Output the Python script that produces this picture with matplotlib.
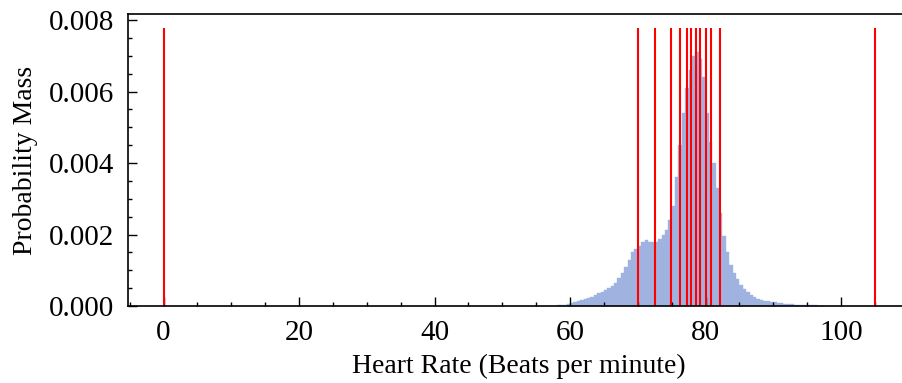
import matplotlib
matplotlib.use("Agg")
import matplotlib.pyplot as plt
from matplotlib.ticker import MultipleLocator, FormatStrFormatter

# Histogram (probability mass), bins of 0.5 bpm: left edges and heights
bin_left = [58.0, 58.5, 59.0, 59.5, 60.0, 60.5, 61.0, 61.5, 62.0, 62.5,
            63.0, 63.5, 64.0, 64.5, 65.0, 65.5, 66.0, 66.5, 67.0, 67.5,
            68.0, 68.5, 69.0, 69.5, 70.0, 70.5, 71.0, 71.5, 72.0, 72.5,
            73.0, 73.5, 74.0, 74.5, 75.0, 75.5, 76.0, 76.5, 77.0, 77.5,
            78.0, 78.5, 79.0, 79.5, 80.0, 80.5, 81.0, 81.5, 82.0, 82.5,
            83.0, 83.5, 84.0, 84.5, 85.0, 85.5, 86.0, 86.5, 87.0, 87.5,
            88.0, 88.5, 89.0, 89.5, 90.0, 90.5, 91.0, 91.5, 92.0, 92.5,
            93.0, 93.5, 94.0, 94.5, 95.0, 95.5, 96.0, 96.5, 97.0]
prob_mass = [0.00002, 0.00003, 0.00004, 0.00005, 0.00007, 0.00010, 0.00013, 0.00017, 0.00020, 0.00023,
             0.00026, 0.00030, 0.00035, 0.00040, 0.00045, 0.00050, 0.00056, 0.00065, 0.00078, 0.00092,
             0.00110, 0.00130, 0.00150, 0.00160, 0.00168, 0.00178, 0.00185, 0.00180, 0.00178, 0.00180,
             0.00188, 0.00198, 0.00212, 0.00240, 0.00280, 0.00360, 0.00450, 0.00540, 0.00610, 0.00660,
             0.00700, 0.00710, 0.00690, 0.00640, 0.00540, 0.00460, 0.00400, 0.00330, 0.00260, 0.00195,
             0.00150, 0.00115, 0.00092, 0.00075, 0.00060, 0.00048, 0.00038, 0.00030, 0.00024, 0.00020,
             0.00017, 0.00015, 0.00013, 0.00011, 0.00010, 0.00008, 0.00007, 0.00006, 0.00005, 0.00005,
             0.00004, 0.00004, 0.00003, 0.00003, 0.00002, 0.00002, 0.00002, 0.00001, 0.00001]
bin_width = 0.5

# Red vertical marker lines (quantiles)
quantiles = [0.0, 70.1, 72.6, 74.9, 76.2, 77.2, 77.9, 78.6, 79.2, 80.0, 80.8, 82.2, 105.0]
line_top = 0.00778

plt.rcParams['font.family'] = ['Liberation Serif', 'DejaVu Serif']

fig = plt.figure(figsize=(9.03, 3.83), dpi=100)
ax = fig.add_axes([128/903, 77/383, 782.5/903, 292/383])

edges = bin_left + [bin_left[-1] + bin_width]
heights = prob_mass + [prob_mass[-1]]
ax.fill_between(edges, 0, heights, step='post', facecolor='#a0b2df',
                edgecolor='#a0b2df', linewidth=0.3)
ax.vlines(quantiles, 0, line_top, colors='#ff0000', linewidth=1.5)

ax.set_xlim(-5.25, 110.25)
ax.set_ylim(0, line_top * 1.05)

ax.xaxis.set_major_locator(MultipleLocator(20))
ax.xaxis.set_minor_locator(MultipleLocator(5))
ax.yaxis.set_major_locator(MultipleLocator(0.002))
ax.yaxis.set_minor_locator(MultipleLocator(0.0005))
ax.yaxis.set_major_formatter(FormatStrFormatter('%.3f'))

ax.tick_params(which='both', direction='in', width=1.0, labelsize=21)
ax.tick_params(which='major', length=6.5, pad=10)
ax.tick_params(which='minor', length=3.2)
for s in ax.spines.values():
    s.set_linewidth(1.2)

ax.set_xlabel('Heart Rate (Beats per minute)', fontsize=20, labelpad=6)
ax.set_ylabel('Probability Mass', fontsize=20, labelpad=8)

fig.savefig('out.png', dpi=100)
